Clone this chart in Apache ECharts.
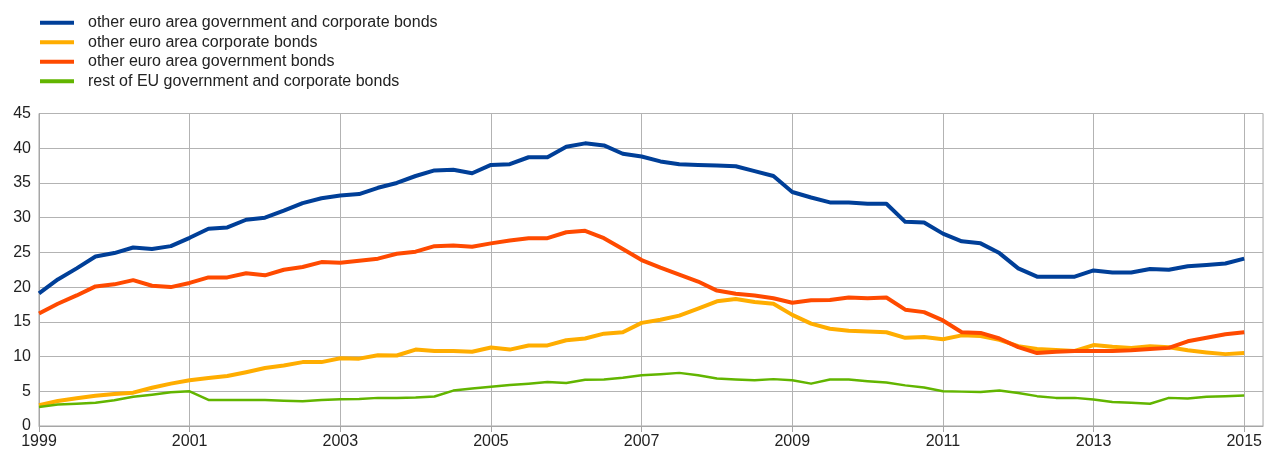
<!DOCTYPE html>
<html>
<head>
<meta charset="utf-8">
<script src="https://cdn.jsdelivr.net/npm/echarts@6/dist/echarts.min.js"></script>
<style>
html,body{margin:0;padding:0;background:#fff;}
#chart{width:1265px;height:450px;}
</style>
</head>
<body>
<div id="chart"></div>
<script>
// Quarterly observations 1999Q1 .. 2015Q1 (plus one empty slot for axis end)
const years = [];
for (let y = 1999; y <= 2015; y++) { for (let q = 1; q <= 4; q++) { years.push(y + 'Q' + q); } }
const categories = years.slice(0, 66);

const seriesNames = [
  'other euro area government and corporate bonds',
  'other euro area corporate bonds',
  'other euro area government bonds',
  'rest of EU government and corporate bonds'
];

const govAndCorp = [19.1, 21.1, 22.7, 24.4, 24.9, 25.7, 25.5, 25.9, 27.1, 28.4, 28.6, 29.7, 30.0, 31.0, 32.1, 32.8,
  33.2, 33.4, 34.3, 35.0, 36.0, 36.8, 36.9, 36.4, 37.6, 37.7, 38.7, 38.7, 40.2, 40.7, 40.4, 39.2,
  38.8, 38.1, 37.7, 37.6, 37.5, 37.4, 36.7, 36.0, 33.7, 32.9, 32.2, 32.2, 32.0, 32.0, 29.4, 29.3,
  27.7, 26.6, 26.3, 24.9, 22.7, 21.5, 21.5, 21.5, 22.4, 22.1, 22.1, 22.6, 22.5, 23.0, 23.2, 23.4, 24.1];

const corporate = [3.0, 3.6, 4.0, 4.35, 4.6, 4.8, 5.5, 6.1, 6.6, 6.9, 7.2, 7.75, 8.35, 8.7, 9.2, 9.2,
  9.75, 9.7, 10.2, 10.15, 11.0, 10.8, 10.8, 10.7, 11.3, 11.0, 11.6, 11.6, 12.35, 12.6, 13.3, 13.5,
  14.85, 15.3, 15.9, 16.9, 17.95, 18.3, 17.85, 17.6, 16.0, 14.75, 14.0, 13.7, 13.6, 13.5, 12.7, 12.8,
  12.5, 13.05, 12.95, 12.4, 11.5, 11.1, 10.95, 10.8, 11.65, 11.4, 11.25, 11.5, 11.35, 10.9, 10.6, 10.35, 10.5];

const government = [16.2, 17.6, 18.8, 20.1, 20.4, 21.0, 20.2, 20.0, 20.6, 21.4, 21.4, 22.0, 21.7, 22.5, 22.9, 23.6,
  23.5, 23.8, 24.1, 24.8, 25.1, 25.9, 26.0, 25.8, 26.3, 26.7, 27.05, 27.05, 27.9, 28.1, 27.05, 25.5,
  23.9, 22.8, 21.8, 20.8, 19.5, 19.05, 18.8, 18.4, 17.75, 18.1, 18.15, 18.5, 18.4, 18.5, 16.75, 16.4,
  15.2, 13.5, 13.4, 12.6, 11.35, 10.5, 10.7, 10.8, 10.8, 10.8, 10.9, 11.1, 11.25, 12.2, 12.7, 13.2, 13.5];

const restOfEU = [2.75, 3.1, 3.2, 3.35, 3.7, 4.2, 4.5, 4.85, 5.0, 3.75, 3.75, 3.75, 3.75, 3.65, 3.55, 3.75,
  3.85, 3.9, 4.05, 4.05, 4.1, 4.25, 5.1, 5.4, 5.65, 5.9, 6.1, 6.35, 6.2, 6.65, 6.7, 6.95,
  7.3, 7.45, 7.65, 7.3, 6.85, 6.7, 6.6, 6.75, 6.6, 6.1, 6.7, 6.7, 6.45, 6.25, 5.85, 5.55,
  5.0, 4.95, 4.9, 5.1, 4.75, 4.3, 4.05, 4.05, 3.8, 3.45, 3.35, 3.2, 4.05, 3.95, 4.2, 4.3, 4.4];

const yTicks = { min: 0, max: 45, interval: 5 };

const colors = ['#003f98', '#ffad00', '#ff4a00', '#62b500'];
const widths = [4, 4, 4, 2.5];
const dataSets = [govAndCorp, corporate, government, restOfEU];

const FONT = "'Liberation Sans', Arial, sans-serif";
const chart = echarts.init(document.getElementById('chart'), null, { renderer: 'canvas' });

chart.setOption({
  animation: false,
  color: colors,
  textStyle: { fontFamily: FONT },
  legend: {
    orient: 'vertical',
    left: 35,
    top: 8,
    itemWidth: 34,
    itemHeight: 4,
    itemGap: 0,
    icon: 'rect',
    data: seriesNames,
    textStyle: { fontFamily: FONT, fontSize: 16, color: '#222', lineHeight: 19.5, padding: [0, 0, 0, 9] }
  },
  grid: {
    show: true,
    left: 39,
    right: 1,
    top: 113.5,
    bottom: 23.5,
    borderColor: '#a6a6a6',
    borderWidth: 1,
    containLabel: false
  },
  xAxis: {
    type: 'category',
    boundaryGap: false,
    data: categories,
    axisLine: { show: true, lineStyle: { color: '#a6a6a6', width: 1 } },
    axisTick: { show: true, interval: 7, length: 6, lineStyle: { color: '#a6a6a6' } },
    axisLabel: {
      interval: 7,
      margin: 8,
      fontFamily: FONT,
      fontSize: 16,
      color: '#222',
      formatter: v => v.slice(0, 4)
    },
    splitLine: { show: true, interval: 7, lineStyle: { color: '#b3b3b3', width: 1 } }
  },
  yAxis: {
    type: 'value',
    min: yTicks.min,
    max: yTicks.max,
    interval: yTicks.interval,
    axisLine: { show: true, lineStyle: { color: '#a6a6a6', width: 1 } },
    axisTick: { show: false },
    axisLabel: { margin: 8, fontFamily: FONT, fontSize: 16, color: '#222' },
    splitLine: { show: true, lineStyle: { color: '#b3b3b3', width: 1 } }
  },
  series: seriesNames.map((name, i) => ({
    name: name,
    type: 'line',
    data: dataSets[i],
    showSymbol: false,
    symbol: 'none',
    lineStyle: { width: widths[i], color: colors[i], join: 'round' },
    itemStyle: { color: colors[i] },
    emphasis: { disabled: true }
  }))
});
</script>
</body>
</html>
